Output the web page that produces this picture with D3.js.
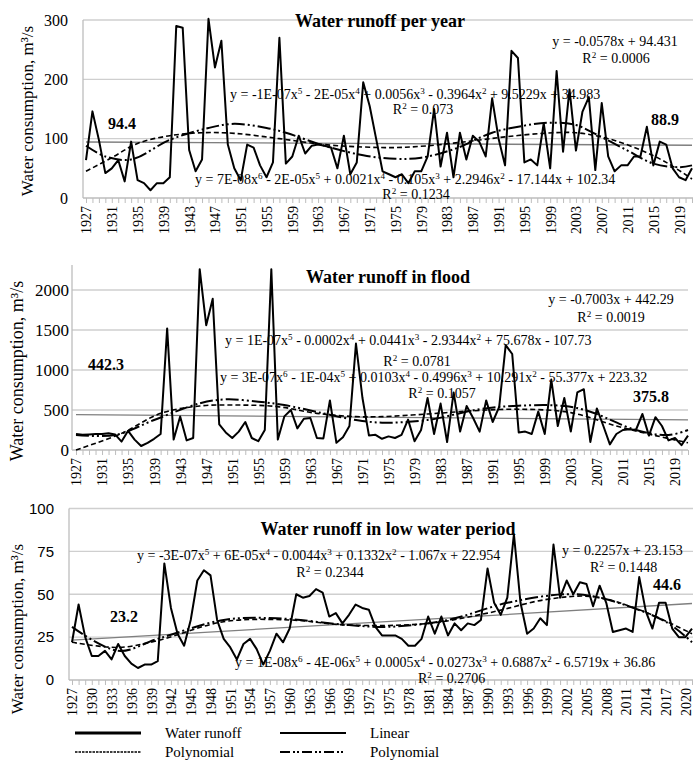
<!DOCTYPE html>
<html>
<head>
<meta charset="utf-8">
<script src="https://cdn.jsdelivr.net/npm/d3@7"></script>
<style>
body { margin: 0; background: #fff; }
text { font-family: "Liberation Serif", "Times New Roman", serif; fill: #000; }
</style>
</head>
<body>
<svg id="chart" width="693" height="765"></svg>
<script>
// categories
var years = d3.range(1927, 2022);

var yearRunoff = [64,146,98,42,50,64,28,95,30,25,13,25,25,35,290,287,81,45,65,302,
  220,265,90,50,30,90,85,55,35,60,270,58,70,105,75,88,90,88,85,50,
  105,40,60,195,155,100,45,40,35,40,25,45,45,70,150,53,110,35,110,65,
  105,95,70,168,100,55,248,236,60,65,55,126,50,214,78,183,80,145,170,47,
  160,70,45,55,55,70,70,120,55,95,90,50,35,30,50];
var floodRunoff = [200,190,195,200,200,210,195,105,240,130,50,90,140,200,1520,130,420,120,150,2260,
  1560,1890,320,220,150,230,350,150,110,250,2260,130,420,500,270,390,400,150,145,620,
  90,160,300,1330,650,180,190,140,170,150,190,380,110,250,650,200,580,100,720,230,
  550,400,230,620,350,540,1310,1200,220,230,200,480,200,880,300,650,230,720,760,100,
  520,300,70,200,250,260,250,450,180,410,300,120,150,60,180];
var lowRunoff = [22,44,25,14,14,17,12,21,14,9.5,7,9,9,11,68,42,27,20,35,58,
  64,61,35,24,19,12,21,24,18,9,17,27,22,30,50,48,49,53,51,37,
  39,33,38,44,42,41,31,26,26,26,24,20,20,24,37,27,37,26,33,29,
  33,32,35,65,45,38,48,85,45,27,30,36,32,79,48,58,50,57,56,43,
  55,45,28,29,30,28,60,40,30,45,45,30,25,25,30];

// trend lines
var linYears = [1927, 2021];
var yearLinear = [94.4, 88.9];
var floodLinear = [442.3, 375.8];
var lowLinear = [23.2, 44.6];

var yearPoly5Years = [1927,1931,1935,1940,1945,1950,1957,1964,1970,1975,1980,1986,1992,1998,2003,2008,2013,2017,2021];
var yearPoly5 = [45,68,92,105,110,109,100,90,86,85,88,95,103,109,110,100,81,60,32];
var yearPoly6Years = [1927,1930,1934,1940,1946,1950,1955,1958,1964,1970,1975,1979,1984,1990,1995,1999,2003,2006,2011,2015,2019,2021];
var yearPoly6 = [88,70,65,98,118,125,118,110,88,72,66,68,82,110,122,127,123,108,80,58,52,55];

var floodPoly5Years = [1927,1934,1940,1946,1952,1958,1964,1970,1974,1981,1988,1995,2003,2010,2016,2021];
var floodPoly5 = [0,208,458,550,562,542,458,417,417,450,490,510,467,300,180,90];
var floodPoly6Years = [1927,1933,1939,1946,1950,1955,1959,1965,1970,1974,1981,1989,1995,2002,2006,2013,2018,2021];
var floodPoly6 = [187,187,375,583,633,604,562,458,375,342,375,510,554,550,479,250,187,250];

var lowPoly5Years = [1927,1934,1940,1950,1960,1969,1981,1990,1999,2006,2013,2021];
var lowPoly5 = [22,19,23,34,35,32,33,39,47,48.6,41,27];
var lowPoly6Years = [1927,1934,1940,1950,1958,1969,1975,1984,1993,2002,2007,2017,2021];
var lowPoly6 = [31,17,24,35,36,32,31,35,45,50,48,34,22];

// tick values
var yearTicks = [0, 100, 200, 300];
var floodTicks = [0, 500, 1000, 1500, 2000];
var lowTicks = [0, 25, 50, 75, 100];

var svg = d3.select("#chart");

var panels = [
  { title: "Water runoff per year", titleX: 380, titleY: 27,
    values: yearRunoff, ticks: yearTicks, lin: yearLinear,
    p5x: yearPoly5Years, p5: yearPoly5, p6x: yearPoly6Years, p6: yearPoly6,
    axisX: 83, left: 86, right: 692, gridRight: 693, bottom: 198, top: 20, max: 300, axisTop: 20,
    labelX: 67, tickFont: "16px", tickFamily: null, step: 4, ylabX: 33, ylabY: 111, ylabSize: "17px",
    notes: [
      { t: "y = -0.0578x + 94.431", x: 615, y: 46, a: "middle" },
      { t: "R² = 0.0006", x: 616, y: 63, a: "middle" },
      { t: "y = -1E-07x⁵ - 2E-05x⁴ + 0.0056x³ - 0.3964x² + 9.5229x + 34.983", x: 230, y: 99, a: "start" },
      { t: "R² = 0.073", x: 423, y: 114, a: "middle" },
      { t: "y = 7E-08x⁶ - 2E-05x⁵ + 0.0021x⁴ - 0.105x³ + 2.2946x² - 17.144x + 102.34", x: 195, y: 184, a: "start" },
      { t: "R² = 0.1234", x: 416, y: 199, a: "middle" },
      { t: "94.4", x: 108, y: 129, a: "start", b: true },
      { t: "88.9", x: 651, y: 125, a: "start", b: true }
    ] },
  { title: "Water runoff in flood", titleX: 388, titleY: 283,
    values: floodRunoff, ticks: floodTicks, lin: floodLinear,
    p5x: floodPoly5Years, p5: floodPoly5, p6x: floodPoly6Years, p6: floodPoly6,
    axisX: 72, left: 76, right: 688, gridRight: 688, bottom: 450, top: 290, max: 2000, axisTop: 265,
    labelX: 68, tickFont: "17px", tickFamily: null, step: 4, ylabX: 23, ylabY: 371, ylabSize: "18px",
    notes: [
      { t: "y = -0.7003x + 442.29", x: 611, y: 304, a: "middle" },
      { t: "R² = 0.0019", x: 611, y: 322, a: "middle" },
      { t: "y = 1E-07x⁵ - 0.0002x⁴ + 0.0441x³ - 2.9344x² + 75.678x - 107.73", x: 225, y: 345, a: "start" },
      { t: "R² = 0.0781", x: 417, y: 366, a: "middle" },
      { t: "y = 3E-07x⁶ - 1E-04x⁵ + 0.0103x⁴ - 0.4996x³ + 10.291x² - 55.377x + 223.32", x: 220, y: 382, a: "start" },
      { t: "R² = 0.1057", x: 442, y: 398, a: "middle" },
      { t: "442.3", x: 88, y: 370, a: "start", b: true },
      { t: "375.8", x: 633, y: 402, a: "start", b: true }
    ] },
  { title: "Water runoff in low water period", titleX: 388, titleY: 535,
    values: lowRunoff, ticks: lowTicks, lin: lowLinear,
    p5x: lowPoly5Years, p5: lowPoly5, p6x: lowPoly6Years, p6: lowPoly6,
    axisX: 69, left: 72, right: 692, gridRight: 693, bottom: 680, top: 508.5, max: 100, axisTop: 508.5,
    labelX: 53, tickFont: "15px", tickFamily: "'Liberation Sans', Arial, sans-serif", step: 3, ylabX: 23, ylabY: 629, ylabSize: "17px",
    notes: [
      { t: "y = -3E-07x⁵ + 6E-05x⁴ - 0.0044x³ + 0.1332x² - 1.067x + 22.954", x: 137, y: 560, a: "start" },
      { t: "R² = 0.2344", x: 330, y: 577, a: "middle" },
      { t: "y = 0.2257x + 23.153", x: 562, y: 555, a: "start" },
      { t: "R² = 0.1448", x: 590, y: 572, a: "start" },
      { t: "y = 1E-08x⁶ - 4E-06x⁵ + 0.0005x⁴ - 0.0273x³ + 0.6887x² - 6.5719x + 36.86", x: 235, y: 667, a: "start" },
      { t: "R² = 0.2706", x: 418, y: 683, a: "start" },
      { t: "23.2", x: 110, y: 622, a: "start", b: true },
      { t: "44.6", x: 653, y: 590, a: "start", b: true }
    ] }
];

var supMap = { "²": "2", "³": "3", "⁴": "4", "⁵": "5", "⁶": "6" };
function writeEq(sel, str) {
  str.split(/([²³⁴⁵⁶])/).forEach(function(part) {
    if (part === "") return;
    if (supMap[part]) {
      sel.append("tspan").attr("baseline-shift", "super").attr("font-size", "65%").text(supMap[part]);
    } else {
      sel.append("tspan").text(part);
    }
  });
}

var dash5 = "5,3";
var dash6 = "13,3,2,3,2,3";

panels.forEach(function(p) {
  var g = svg.append("g");
  var x = d3.scaleLinear().domain([1927, 2021]).range([p.left, p.right]);
  var y = d3.scaleLinear().domain([0, p.max]).range([p.bottom, p.top]);

  // gridlines
  g.append("g")
    .selectAll("line")
    .data(p.ticks.filter(function(d) { return d > 0; }))
    .enter().append("line")
    .attr("x1", p.axisX).attr("x2", p.gridRight)
    .attr("y1", function(d) { return y(d); }).attr("y2", function(d) { return y(d); })
    .attr("stroke", "#cfcfcf").attr("stroke-width", 1.3);

  // y tick labels
  var yAxis = g.append("g")
    .attr("transform", "translate(" + (p.labelX + 1) + ",0)")
    .call(d3.axisLeft(y).tickValues(p.ticks).tickSize(0).tickPadding(0).tickFormat(d3.format("d")));
  yAxis.select(".domain").remove();
  yAxis.selectAll("text")
    .style("font-size", p.tickFont)
    .style("font-family", p.tickFamily);

  // axis lines
  g.append("line")
    .attr("x1", p.axisX).attr("x2", p.axisX)
    .attr("y1", p.axisTop).attr("y2", p.bottom)
    .attr("stroke", "#bdbdbd").attr("stroke-width", 1.3);

  var xAxis = g.append("g")
    .attr("transform", "translate(0," + p.bottom + ")")
    .call(d3.axisBottom(x).tickValues(years).tickSize(5)
      .tickFormat(function(d) { return (d - 1927) % p.step === 0 ? d : ""; }));
  xAxis.select(".domain").attr("stroke", "#bdbdbd").attr("stroke-width", 1.3)
    .attr("d", "M" + p.axisX + ",0H" + p.gridRight);
  xAxis.selectAll(".tick line").attr("stroke", "#bdbdbd");
  xAxis.selectAll("text")
    .attr("transform", "rotate(-90)")
    .attr("x", -8).attr("y", 0).attr("dy", "0.35em")
    .style("text-anchor", "end")
    .style("font-size", "14px")
    .style("font-family", "'Liberation Serif', serif");

  // linear trend
  g.append("path")
    .datum(p.lin)
    .attr("fill", "none").attr("stroke", "#7f7f7f").attr("stroke-width", 1.3)
    .attr("d", d3.line().x(function(d, i) { return x(linYears[i]); }).y(function(d) { return y(d); }));

  // observed series
  g.append("path")
    .datum(p.values)
    .attr("fill", "none").attr("stroke", "#000").attr("stroke-width", 2)
    .attr("stroke-linejoin", "round")
    .attr("d", d3.line().x(function(d, i) { return x(years[i]); }).y(function(d) { return y(d); }));

  // polynomial trends
  g.append("path")
    .datum(p.p5)
    .attr("fill", "none").attr("stroke", "#000").attr("stroke-width", 1.6)
    .attr("stroke-dasharray", dash5)
    .attr("d", d3.line().curve(d3.curveCatmullRom).x(function(d, i) { return x(p.p5x[i]); }).y(function(d) { return y(d); }));
  g.append("path")
    .datum(p.p6)
    .attr("fill", "none").attr("stroke", "#000").attr("stroke-width", 2)
    .attr("stroke-dasharray", dash6)
    .attr("d", d3.line().curve(d3.curveCatmullRom).x(function(d, i) { return x(p.p6x[i]); }).y(function(d) { return y(d); }));

  // title
  g.append("text")
    .attr("x", p.titleX).attr("y", p.titleY)
    .attr("text-anchor", "middle")
    .style("font-size", "18px").style("font-weight", "bold")
    .text(p.title);

  // y axis title
  g.append("text")
    .attr("transform", "translate(" + p.ylabX + "," + p.ylabY + ") rotate(-90)")
    .attr("text-anchor", "middle")
    .style("font-size", p.ylabSize)
    .text("Water consumption, m³/s");

  // equations and values
  p.notes.forEach(function(n) {
    var t = g.append("text")
      .attr("x", n.x).attr("y", n.y)
      .attr("text-anchor", n.a)
      .style("font-size", n.b ? "16px" : "14px")
      .style("font-weight", n.b ? "bold" : "normal");
    writeEq(t, n.t);
  });
});

// legend
var legendItems = [
  { label: "Water runoff", x: 75, y: 733, w: 3.2, dash: null },
  { label: "Linear", x: 280, y: 733, w: 2, dash: null },
  { label: "Polynomial", x: 75, y: 752, w: 1.5, dash: "2.5,1" },
  { label: "Polynomial", x: 280, y: 752, w: 2, dash: "10,3,2,2,2,3" }
];
var legend = svg.append("g");
legendItems.forEach(function(d) {
  legend.append("line")
    .attr("x1", d.x).attr("x2", d.x + 66)
    .attr("y1", d.y).attr("y2", d.y)
    .attr("stroke", "#000").attr("stroke-width", d.w)
    .attr("stroke-dasharray", d.dash);
  legend.append("text")
    .attr("x", d.x + 90).attr("y", d.y + 5)
    .style("font-size", "15px")
    .text(d.label);
});
</script>
</body>
</html>
